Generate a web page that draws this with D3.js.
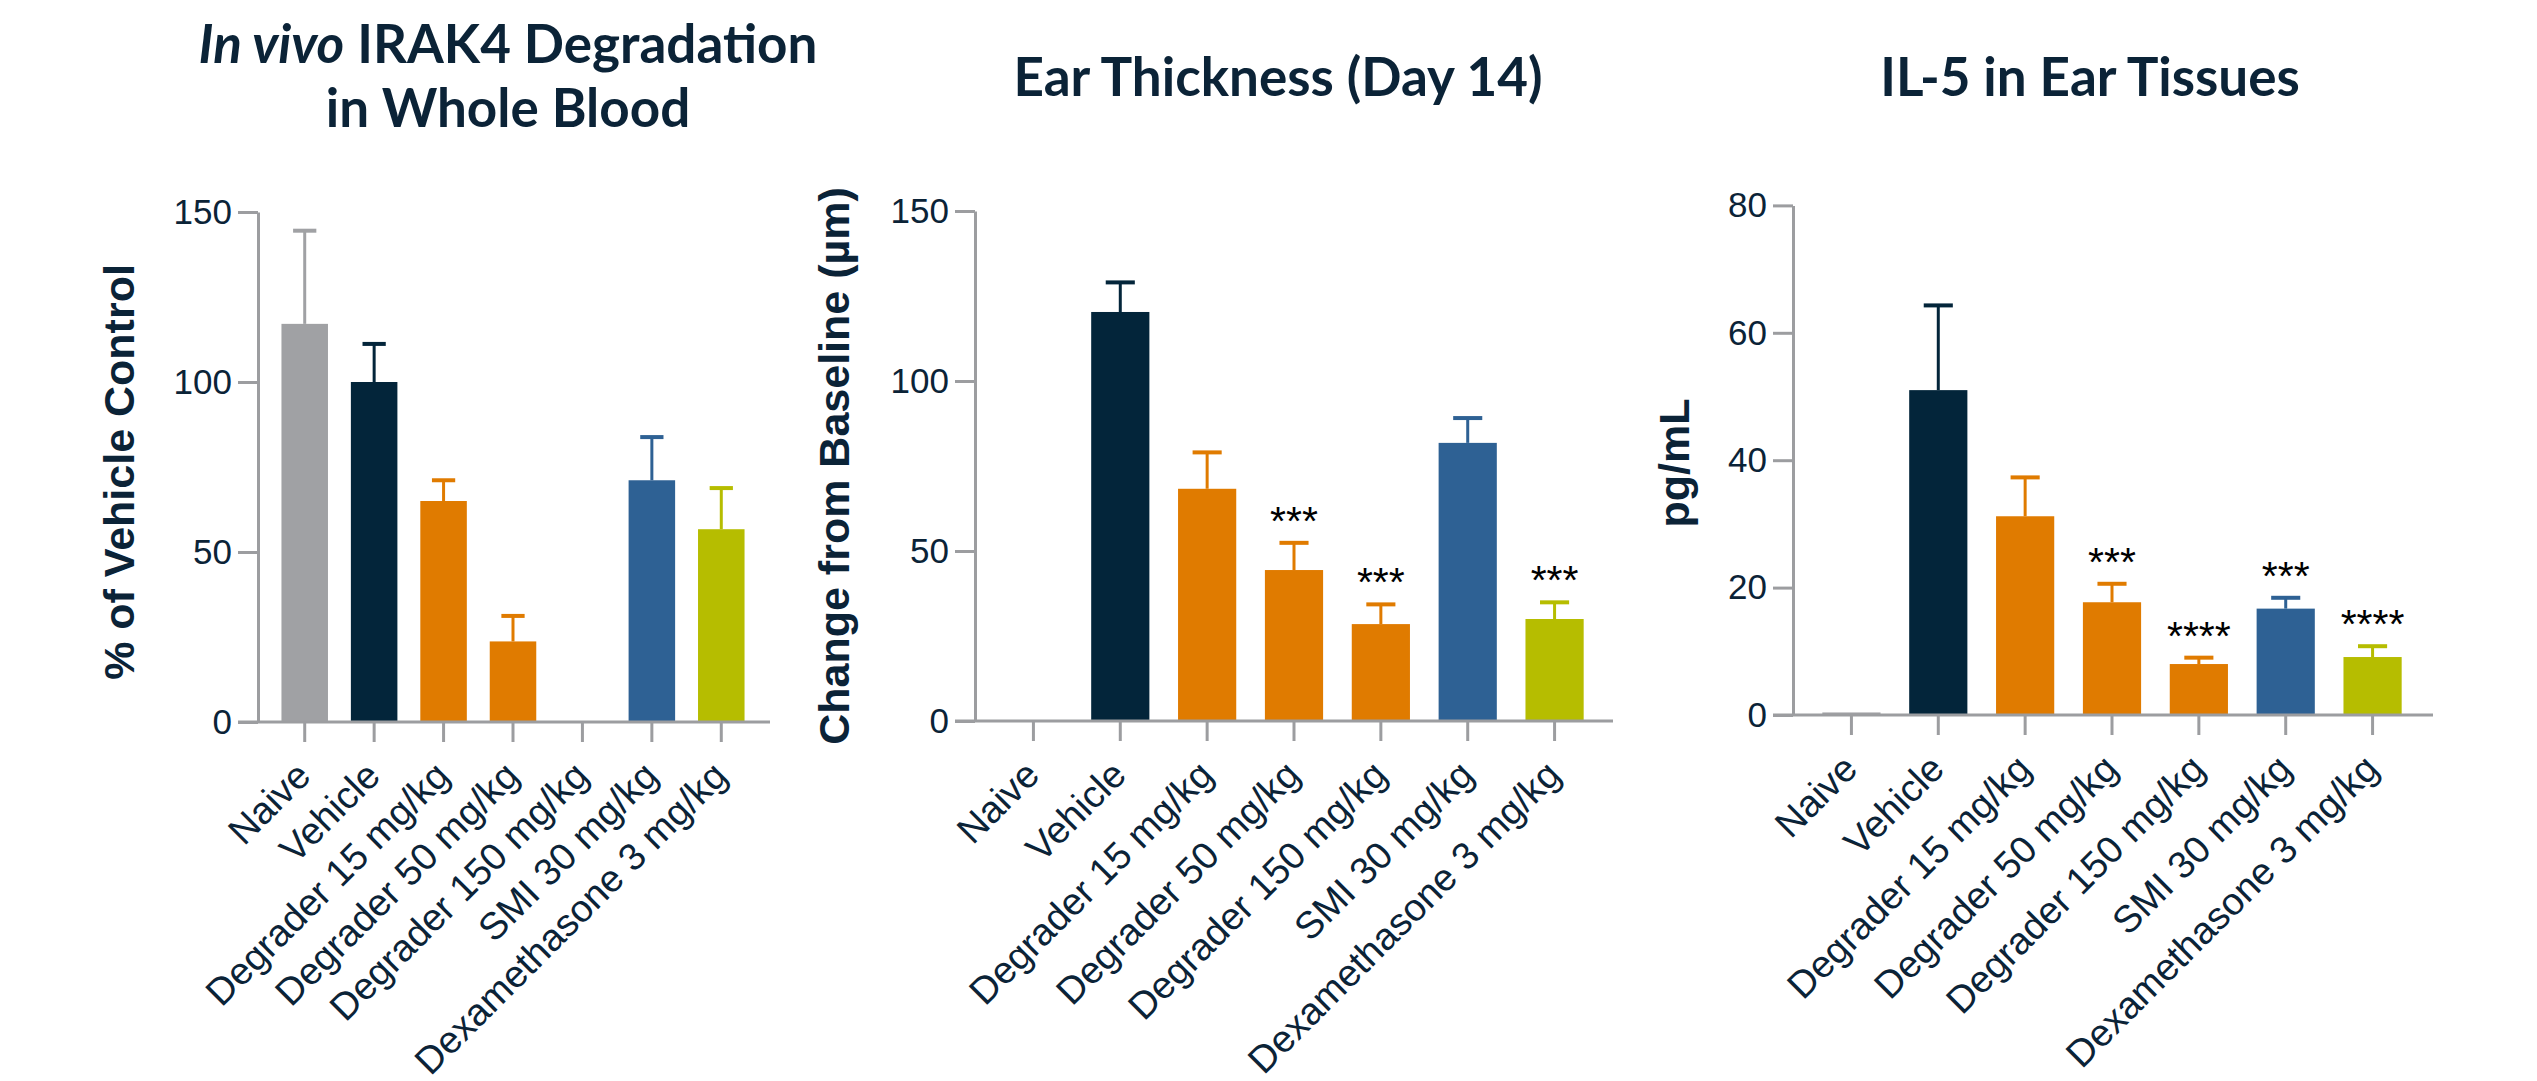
<!DOCTYPE html>
<html>
<head>
<meta charset="utf-8">
<script src="https://cdn.jsdelivr.net/npm/d3@7"></script>
<style>
  html, body { margin: 0; padding: 0; background: #ffffff; }
  svg { display: block; }
</style>
</head>
<body>
<svg id="fig" width="2537" height="1081"></svg>
<script>
// Treatment groups shared by all three panels
const categories = ["Naive", "Vehicle", "Degrader 15 mg/kg", "Degrader 50 mg/kg",
                    "Degrader 150 mg/kg", "SMI 30 mg/kg", "Dexamethasone 3 mg/kg"];

// In vivo IRAK4 degradation in whole blood (% of vehicle control), mean and SEM
const irak4Mean = [117.1, 100.0, 65.0, 23.7, null, 71.1, 56.7];
const irak4Err  = [27.4, 11.2, 6.1, 7.5, null, 12.7, 12.1];
const irak4Ticks = [0, 50, 100, 150];
const irak4Stars = ["", "", "", "", "", "", ""];

// Ear thickness change from baseline on day 14 (µm)
const earMean = [null, 120.3, 68.3, 44.4, 28.5, 81.8, 30.0];
const earErr  = [null, 8.7, 10.7, 8.0, 5.8, 7.3, 4.9];
const earTicks = [0, 50, 100, 150];
const earStars = ["", "", "", "***", "***", "", "***"];

// IL-5 in ear tissues (pg/mL)
const il5Mean = [0.4, 51.0, 31.2, 17.7, 8.0, 16.7, 9.1];
const il5Err  = [0, 13.3, 6.1, 2.9, 1.0, 1.7, 1.7];
const il5Ticks = [0, 20, 40, 60, 80];
const il5Stars = ["", "", "", "***", "****", "***", "****"];

// Fill colour for each treatment group
const groupColors = ["#a0a1a4", "#03253a", "#e07b00", "#e07b00", "#e07b00", "#2e6194", "#b6bd00"];

const INK = "#0b2337";
const AXIS = "#9c9da0";

const svg = d3.select("#fig");
svg.append("rect").attr("width", 2537).attr("height", 1081).attr("fill", "#ffffff");

function drawPanel(p) {
  const g = svg.append("g");

  const x = d3.scaleBand().domain(categories).range([p.bandStart, p.bandEnd])
    .paddingInner(0.33).paddingOuter(0.165);
  const y = d3.scaleLinear().domain([0, p.max]).range([p.y0, p.yTop]);
  const bw = x.bandwidth();
  const rows = categories.map((c, i) => ({ c, i, v: p.mean[i], e: p.err[i], s: p.stars[i] }))
    .filter(d => d.v !== null);

  // bars
  g.selectAll("rect.bar").data(rows).join("rect")
    .attr("class", "bar")
    .attr("x", d => x(d.c))
    .attr("width", bw)
    .attr("y", d => y(d.v))
    .attr("height", d => y(0) - y(d.v))
    .attr("fill", d => groupColors[d.i]);

  // upper error bars
  const eb = rows.filter(d => d.e > 0);
  g.selectAll("line.stem").data(eb).join("line")
    .attr("class", "stem")
    .attr("x1", d => x(d.c) + bw / 2).attr("x2", d => x(d.c) + bw / 2)
    .attr("y1", d => y(d.v)).attr("y2", d => y(d.v + d.e))
    .attr("stroke", d => groupColors[d.i]).attr("stroke-width", 3);
  g.selectAll("line.cap").data(eb).join("line")
    .attr("class", "cap")
    .attr("x1", d => x(d.c) + bw / 4).attr("x2", d => x(d.c) + bw * 3 / 4)
    .attr("y1", d => y(d.v + d.e)).attr("y2", d => y(d.v + d.e))
    .attr("stroke", d => groupColors[d.i]).attr("stroke-width", 4);

  // significance markers
  g.selectAll("text.star").data(rows.filter(d => d.s)).join("text")
    .attr("class", "star")
    .attr("x", d => x(d.c) + bw / 2)
    .attr("y", d => y(d.v + d.e) - 8)
    .attr("text-anchor", "middle")
    .attr("font-family", "Liberation Sans, Arial, sans-serif")
    .attr("font-size", 41)
    .attr("fill", "#000000")
    .text(d => d.s);

  // y axis
  const ya = g.append("g").attr("transform", `translate(${p.yAxisX},0)`)
    .call(d3.axisLeft(y).tickValues(p.ticks).tickSize(20).tickSizeOuter(0).tickPadding(6));
  ya.select(".domain").attr("stroke", AXIS).attr("stroke-width", 3);
  ya.selectAll(".tick line").attr("stroke", AXIS).attr("stroke-width", 3);
  ya.selectAll(".tick text")
    .attr("font-family", "Liberation Sans, Arial, sans-serif")
    .attr("font-size", 35).attr("fill", INK);

  // x axis baseline, reaching back under the zero tick
  g.append("line")
    .attr("x1", p.yAxisX - 20).attr("x2", p.axisEnd)
    .attr("y1", y(0)).attr("y2", y(0))
    .attr("stroke", AXIS).attr("stroke-width", 3);

  const xa = g.append("g").attr("transform", `translate(0,${y(0)})`)
    .call(d3.axisBottom(x).tickSize(20).tickSizeOuter(0));
  xa.select(".domain").remove();
  xa.selectAll(".tick line").attr("stroke", AXIS).attr("stroke-width", 3);
  xa.selectAll(".tick text")
    .attr("x", 0).attr("y", 0).attr("dy", 0)
    .attr("text-anchor", "end")
    .attr("transform", "translate(8,56) rotate(-45)")
    .attr("font-family", "Liberation Sans, Arial, sans-serif")
    .attr("font-size", 38).attr("fill", INK);

  // y axis title
  g.append("text")
    .attr("transform", `translate(${p.yLabelX},${p.yLabelY}) rotate(-90)`)
    .attr("text-anchor", "middle")
    .attr("font-family", "Liberation Sans, Arial, sans-serif")
    .attr("font-weight", "bold")
    .attr("font-size", 43)
    .attr("fill", INK)
    .text(p.yLabel);

  // panel title
  const t = g.append("text")
    .attr("text-anchor", "middle")
    .attr("font-family", "Lato, sans-serif")
    .attr("font-weight", "bold")
    .attr("font-size", 53)
    .attr("fill", INK);
  p.title.forEach((line, li) => {
    const ts = t.append("tspan").attr("x", p.titleX).attr("y", p.titleY[li]);
    line.forEach(seg => {
      ts.append("tspan").attr("font-style", seg.italic ? "italic" : "normal").text(seg.t);
    });
  });
}

drawPanel({
  title: [[{ t: "In vivo", italic: true }, { t: " IRAK4 Degradation" }], [{ t: "in Whole Blood" }]],
  titleX: 508, titleY: [63, 127],
  yLabel: "% of Vehicle Control", yLabelX: 134, yLabelY: 472,
  mean: irak4Mean, err: irak4Err, stars: irak4Stars, ticks: irak4Ticks, max: 150,
  yAxisX: 258, bandStart: 270, bandEnd: 756, axisEnd: 770, y0: 722, yTop: 212
});

drawPanel({
  title: [[{ t: "Ear Thickness (Day 14)" }]],
  titleX: 1278, titleY: [96],
  yLabel: "Change from Baseline (µm)", yLabelX: 849, yLabelY: 466,
  mean: earMean, err: earErr, stars: earStars, ticks: earTicks, max: 150,
  yAxisX: 975, bandStart: 990, bandEnd: 1598, axisEnd: 1613, y0: 721, yTop: 211
});

drawPanel({
  title: [[{ t: "IL-5 in Ear Tissues" }]],
  titleX: 2090, titleY: [96],
  yLabel: "pg/mL", yLabelX: 1689, yLabelY: 463,
  mean: il5Mean, err: il5Err, stars: il5Stars, ticks: il5Ticks, max: 80,
  yAxisX: 1793, bandStart: 1808, bandEnd: 2416, axisEnd: 2433, y0: 715, yTop: 205.4
});
</script>
</body>
</html>
